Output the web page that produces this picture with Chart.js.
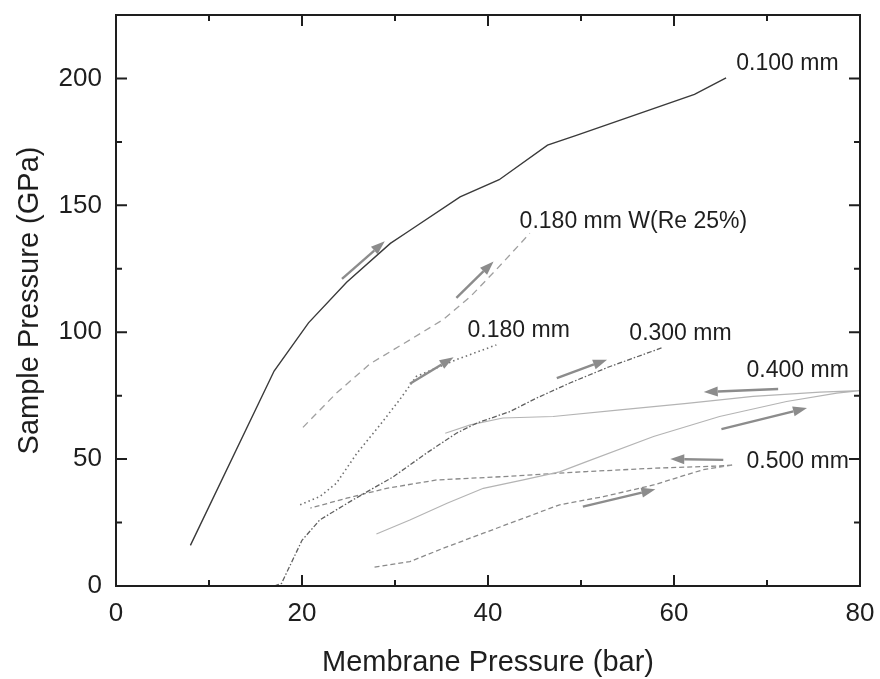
<!DOCTYPE html>
<html lang="en">
<head>
    <meta charset="UTF-8">
    <title>Sample Pressure vs Membrane Pressure</title>
    <script src="https://cdn.jsdelivr.net/npm/chart.js"></script>
    <style>
        body { margin: 0; background: #fff; }
        canvas { display: block; }
    </style>
</head>
<body>
    <canvas id="pressureChart" width="880" height="679"></canvas>

    <script>
        // Curves (x = membrane pressure in bar, y = sample pressure in GPa)
        const x100 = [8, 17, 20.7, 24.8, 29.5, 31.3, 37, 41.2, 46.4, 49.5, 62.2, 65.6];
        const y100 = [16, 84.7, 103.7, 119.7, 135, 139.4, 153.3, 160.1, 173.7, 177.6, 193.7, 200.2];

        const x180W = [20.1, 23.7, 27.3, 31.6, 35.2, 38.1, 40.9, 44.5];
        const y180W = [62.5, 76, 87.5, 97, 105, 114, 124.7, 139];

        const x180 = [19.8, 21.9, 23.7, 25.9, 28.4, 30.5, 32.3, 36.6, 40.9];
        const y180 = [32, 35.2, 40.5, 52.3, 63.5, 73.4, 82.6, 89.2, 95];

        const x300 = [17, 17.8, 20, 21.9, 25.5, 29.8, 33.4, 36.6, 38.8, 42.4, 45.2, 48.8, 52.9, 58.8];
        const y300 = [0, 1, 18, 26, 34, 43, 52.4, 60.2, 64.2, 68.8, 74, 80, 86.2, 94];

        // loading branch then unloading branch
        const x400 = [28, 31.6, 35.6, 39.5, 43.8, 47.7, 50.6, 57.8, 64.9, 72.1, 77.5, 80, 75.7, 68.5, 61.4, 54.2, 47, 41.6, 38.1, 35.4];
        const y400 = [20.5, 26, 32.6, 38.5, 41.8, 45, 49, 58.9, 66.8, 72.7, 76, 77, 76.4, 74.7, 72, 69.4, 66.8, 66.2, 63.5, 60.2];

        const x500 = [27.8, 31.6, 35.2, 39.5, 43.8, 47.7, 52.4, 57.8, 63.1, 66.4, 64.9, 57.8, 50.6, 41.6, 34.5, 29.1, 24.8, 20.9];
        const y500 = [7.4, 9.6, 14.9, 20.8, 26.7, 32, 35.2, 39.8, 45.8, 47.7, 47.3, 46.4, 45.1, 43.1, 41.8, 38.5, 34.6, 30.7];

        // direction arrows (tail -> head), in data units
        const arrowX0 = [24.3, 36.6, 31.6, 47.4, 71.2, 65.1, 65.3, 50.2];
        const arrowY0 = [121, 113.5, 79.7, 81.9, 77.6, 61.8, 49.7, 31.3];
        const arrowX1 = [28.9, 40.6, 36.3, 52.8, 63.2, 74.3, 59.6, 58];
        const arrowY1 = [135.8, 127.9, 90.1, 89.2, 76.4, 70.1, 50, 38.1];

        // curve labels (left edge, vertical middle), in data units
        const labelText = ['0.100 mm', '0.180 mm W(Re 25%)', '0.180 mm', '0.300 mm', '0.400 mm', '0.500 mm'];
        const labelX = [66.7, 43.4, 37.8, 55.2, 67.8, 67.8];
        const labelY = [206, 143.4, 100.5, 99.3, 84.7, 48.9];

        const FONT = '"Liberation Sans", Arial, Helvetica, sans-serif';

        function toPoints(xs, ys) {
            return xs.map((x, i) => ({ x: x, y: ys[i] }));
        }

        function curve(xs, ys, color, dash, width) {
            return {
                data: toPoints(xs, ys),
                showLine: true,
                borderColor: color,
                borderWidth: width,
                borderDash: dash,
                pointRadius: 0,
                tension: 0,
                fill: false
            };
        }

        // frame, inward ticks, arrows and labels
        const decorations = {
            id: 'decorations',
            afterDatasetsDraw(chart) {
                const ctx = chart.ctx;
                const area = chart.chartArea;
                const xs = chart.scales.x;
                const ys = chart.scales.y;
                ctx.save();

                // arrows
                ctx.strokeStyle = '#8c8c8c';
                ctx.fillStyle = '#8c8c8c';
                ctx.lineWidth = 2.4;
                for (let i = 0; i < arrowX0.length; i++) {
                    const x0 = xs.getPixelForValue(arrowX0[i]);
                    const y0 = ys.getPixelForValue(arrowY0[i]);
                    const x1 = xs.getPixelForValue(arrowX1[i]);
                    const y1 = ys.getPixelForValue(arrowY1[i]);
                    const ang = Math.atan2(y1 - y0, x1 - x0);
                    const headLen = 14, headHalf = 5;
                    const bx = x1 - headLen * Math.cos(ang);
                    const by = y1 - headLen * Math.sin(ang);
                    ctx.beginPath();
                    ctx.moveTo(x0, y0);
                    ctx.lineTo(bx, by);
                    ctx.stroke();
                    ctx.beginPath();
                    ctx.moveTo(x1, y1);
                    ctx.lineTo(bx + headHalf * Math.sin(ang), by - headHalf * Math.cos(ang));
                    ctx.lineTo(bx - headHalf * Math.sin(ang), by + headHalf * Math.cos(ang));
                    ctx.closePath();
                    ctx.fill();
                }

                // labels
                ctx.fillStyle = '#1e1e1e';
                ctx.font = '23px ' + FONT;
                ctx.textAlign = 'left';
                ctx.textBaseline = 'middle';
                labelText.forEach((t, i) => {
                    ctx.fillText(t, xs.getPixelForValue(labelX[i]), ys.getPixelForValue(labelY[i]));
                });

                // inward tick marks on all four sides
                ctx.strokeStyle = '#1e1e1e';
                ctx.lineWidth = 2;
                ctx.beginPath();
                xs.ticks.forEach(t => {
                    if (t.value <= xs.min || t.value >= xs.max) return;
                    const p = xs.getPixelForValue(t.value);
                    const len = t.value % 20 === 0 ? 11 : 6;
                    ctx.moveTo(p, area.bottom); ctx.lineTo(p, area.bottom - len);
                    ctx.moveTo(p, area.top); ctx.lineTo(p, area.top + len);
                });
                ys.ticks.forEach(t => {
                    if (t.value <= ys.min || t.value >= ys.max) return;
                    const p = ys.getPixelForValue(t.value);
                    const len = t.value % 50 === 0 ? 11 : 6;
                    ctx.moveTo(area.left, p); ctx.lineTo(area.left + len, p);
                    ctx.moveTo(area.right, p); ctx.lineTo(area.right - len, p);
                });
                ctx.stroke();

                // frame
                ctx.lineWidth = 2;
                ctx.strokeRect(area.left, area.top, area.right - area.left, area.bottom - area.top);
                ctx.restore();
            }
        };

        const ctx = document.getElementById('pressureChart').getContext('2d');
        const chart = new Chart(ctx, {
            type: 'scatter',
            data: {
                datasets: [
                    curve(x100, y100, '#3a3a3a', [], 1.4),
                    curve(x180W, y180W, '#a0a0a0', [7, 5], 1.3),
                    curve(x180, y180, '#707070', [1.5, 3], 1.6),
                    curve(x300, y300, '#606060', [5, 2, 1.5, 2], 1.3),
                    curve(x400, y400, '#b4b4b4', [], 1.2),
                    curve(x500, y500, '#8a8a8a', [5, 3], 1.3)
                ]
            },
            options: {
                responsive: false,
                animation: false,
                devicePixelRatio: 1,
                layout: { padding: { left: 0, right: 20, top: 15, bottom: 0 } },
                plugins: {
                    legend: { display: false },
                    tooltip: { enabled: false }
                },
                scales: {
                    x: {
                        type: 'linear',
                        min: 0,
                        max: 80,
                        afterFit: s => {
                            s.height = 93;
                            s.paddingLeft = 0;
                            s.paddingRight = 0;
                        },
                        grid: { display: false, drawTicks: false },
                        border: { display: false },
                        ticks: {
                            stepSize: 10,
                            autoSkip: false,
                            maxRotation: 0,
                            padding: 15,
                            color: '#1e1e1e',
                            font: { family: FONT, size: 26, lineHeight: 1 },
                            callback: v => (v % 20 === 0 ? v : '')
                        },
                        title: {
                            display: true,
                            text: 'Membrane Pressure (bar)',
                            color: '#1e1e1e',
                            font: { family: FONT, size: 29, lineHeight: 1 },
                            padding: { top: 0, bottom: 2 }
                        }
                    },
                    y: {
                        type: 'linear',
                        min: 0,
                        max: 225,
                        afterFit: s => {
                            s.width = 116;
                            s.paddingTop = 0;
                            s.paddingBottom = 0;
                        },
                        grid: { display: false, drawTicks: false },
                        border: { display: false },
                        ticks: {
                            stepSize: 25,
                            autoSkip: false,
                            padding: 14,
                            color: '#1e1e1e',
                            font: { family: FONT, size: 26, lineHeight: 1 },
                            callback: v => (v % 50 === 0 ? v : '')
                        },
                        title: {
                            display: true,
                            text: 'Sample Pressure (GPa)',
                            color: '#1e1e1e',
                            font: { family: FONT, size: 29, lineHeight: 1 },
                            padding: { top: 15, bottom: 0 }
                        }
                    }
                }
            },
            plugins: [decorations]
        });
    </script>
</body>
</html>
